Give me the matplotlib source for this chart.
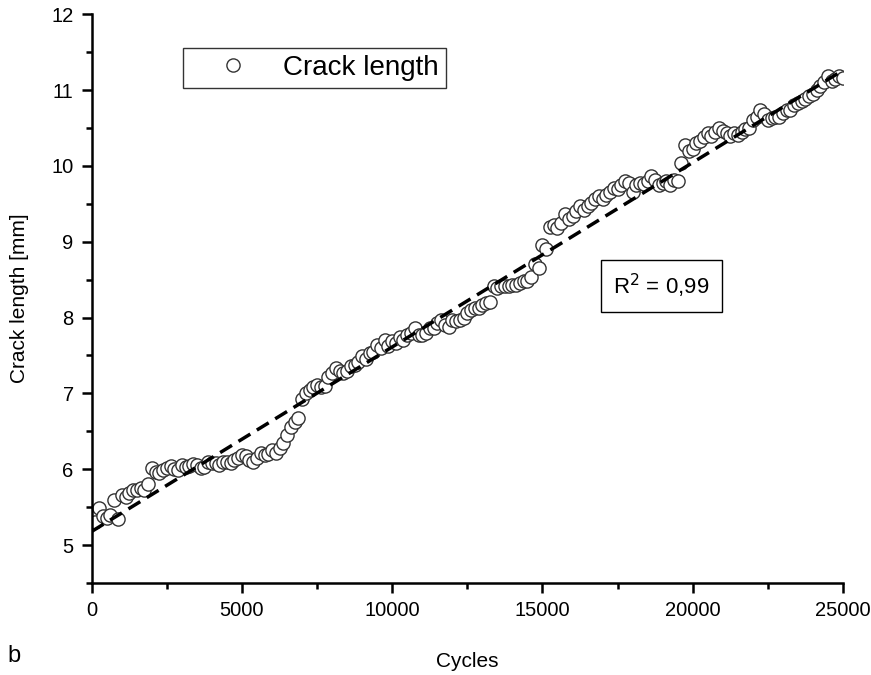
import matplotlib
matplotlib.use("Agg")
import matplotlib.pyplot as plt
from matplotlib.ticker import MultipleLocator

plt.rcParams['font.family'] = ['Liberation Sans', 'DejaVu Sans']

cycles = [
    0, 125, 250, 375, 500, 625, 750, 875,
    1000, 1125, 1250, 1375, 1500, 1625, 1750, 1875,
    2000, 2125, 2250, 2375, 2500, 2625, 2750, 2875,
    3000, 3125, 3250, 3375, 3500, 3625, 3750, 3875,
    4000, 4125, 4250, 4375, 4500, 4625, 4750, 4875,
    5000, 5125, 5250, 5375, 5500, 5625, 5750, 5875,
    6000, 6125, 6250, 6375, 6500, 6625, 6750, 6875,
    7000, 7125, 7250, 7375, 7500, 7625, 7750, 7875,
    8000, 8125, 8250, 8375, 8500, 8625, 8750, 8875,
    9000, 9125, 9250, 9375, 9500, 9625, 9750, 9875,
    10000, 10125, 10250, 10375, 10500, 10625, 10750, 10875,
    11000, 11125, 11250, 11375, 11500, 11625, 11750, 11875,
    12000, 12125, 12250, 12375, 12500, 12625, 12750, 12875,
    13000, 13125, 13250, 13375, 13500, 13625, 13750, 13875,
    14000, 14125, 14250, 14375, 14500, 14625, 14750, 14875,
    15000, 15125, 15250, 15375, 15500, 15625, 15750, 15875,
    16000, 16125, 16250, 16375, 16500, 16625, 16750, 16875,
    17000, 17125, 17250, 17375, 17500, 17625, 17750, 17875,
    18000, 18125, 18250, 18375, 18500, 18625, 18750, 18875,
    19000, 19125, 19250, 19375, 19500, 19625, 19750, 19875,
    20000, 20125, 20250, 20375, 20500, 20625, 20750, 20875,
    21000, 21125, 21250, 21375, 21500, 21625, 21750, 21875,
    22000, 22125, 22250, 22375, 22500, 22625, 22750, 22875,
    23000, 23125, 23250, 23375, 23500, 23625, 23750, 23875,
    24000, 24125, 24250, 24375, 24500, 24625, 24750, 24875,
    25000,
]

crack_length = [
    5.29, 5.30, 5.49, 5.38, 5.36, 5.40, 5.60, 5.35,
    5.66, 5.64, 5.69, 5.72, 5.73, 5.75, 5.73, 5.80,
    6.02, 5.97, 5.95, 5.99, 6.01, 6.04, 6.00, 5.99,
    6.06, 6.03, 6.04, 6.07, 6.05, 6.02, 6.03, 6.10,
    6.08, 6.08, 6.06, 6.09, 6.10, 6.08, 6.12, 6.15,
    6.19, 6.17, 6.12, 6.10, 6.15, 6.21, 6.19, 6.20,
    6.26, 6.22, 6.28, 6.35, 6.45, 6.56, 6.62, 6.68,
    6.92, 7.00, 7.05, 7.08, 7.11, 7.09, 7.10, 7.22,
    7.27, 7.33, 7.30, 7.27, 7.30, 7.36, 7.38, 7.42,
    7.49, 7.45, 7.53, 7.55, 7.64, 7.60, 7.71, 7.62,
    7.69, 7.66, 7.75, 7.70, 7.77, 7.80, 7.86, 7.77,
    7.77, 7.80, 7.86, 7.86, 7.93, 7.97, 7.90, 7.88,
    7.97, 7.95, 7.97, 8.00, 8.06, 8.10, 8.13, 8.13,
    8.17, 8.19, 8.20, 8.41, 8.39, 8.42, 8.41, 8.41,
    8.43, 8.43, 8.46, 8.48, 8.48, 8.54, 8.70, 8.65,
    8.96, 8.90, 9.20, 9.22, 9.18, 9.25, 9.36, 9.30,
    9.34, 9.40, 9.47, 9.42, 9.47, 9.51, 9.56, 9.60,
    9.56, 9.62, 9.66, 9.71, 9.69, 9.75, 9.80, 9.78,
    9.66, 9.75, 9.78, 9.76, 9.80, 9.86, 9.82, 9.75,
    9.78, 9.80, 9.75, 9.82, 9.80, 10.04, 10.28, 10.19,
    10.22, 10.30, 10.33, 10.38, 10.43, 10.40, 10.45, 10.50,
    10.46, 10.43, 10.40, 10.43, 10.41, 10.45, 10.48, 10.50,
    10.61, 10.65, 10.74, 10.68, 10.61, 10.63, 10.65, 10.65,
    10.70, 10.74, 10.74, 10.80, 10.83, 10.85, 10.88, 10.92,
    10.95, 11.00, 11.05, 11.10, 11.18, 11.12, 11.14, 11.18,
    11.16,
]

fit_cycles = [0, 25000]
fit_length = [5.18, 11.26]

r2_label = "R$^2$ = 0,99"
x_ticks = [0, 5000, 10000, 15000, 20000, 25000]
y_ticks = [5, 6, 7, 8, 9, 10, 11, 12]

fig = plt.figure(figsize=(8.71, 6.75), dpi=100)
ax = fig.add_axes([0.1053, 0.1363, 0.8625, 0.8427])

ax.plot(cycles, crack_length, linestyle='none', marker='o', markersize=9.5,
        markerfacecolor='white', markeredgecolor='#333333', markeredgewidth=1.0,
        label='Crack length', zorder=2)
ax.plot(fit_cycles, fit_length, color='black', linestyle=(0, (4, 2.2)),
        linewidth=2.5, zorder=3)

ax.set_xlim(0, 25000)
ax.set_ylim(4.5, 12)
ax.set_xticks(x_ticks)
ax.set_yticks(y_ticks)
ax.xaxis.set_minor_locator(MultipleLocator(2500))
ax.yaxis.set_minor_locator(MultipleLocator(0.5))

for s in ['top', 'right']:
    ax.spines[s].set_visible(False)
for s in ['left', 'bottom']:
    ax.spines[s].set_linewidth(1.8)

ax.tick_params(axis='both', which='major', direction='out', length=7, width=1.8,
               labelsize=14.5, pad=6)
ax.tick_params(axis='both', which='minor', direction='out', length=4, width=1.8)

ax.set_xlabel('Cycles', fontsize=15, labelpad=23)
ax.set_ylabel('Crack length [mm]', fontsize=15, labelpad=16)

leg = ax.legend(loc='center left', bbox_to_anchor=(0.122, 0.906), fontsize=20,
                frameon=True, fancybox=False, handletextpad=0.25, borderpad=0.25,
                handlelength=3.1, borderaxespad=0)
leg.get_frame().set_edgecolor('black')
leg.get_frame().set_linewidth(1.0)

ax.text(0.758, 0.522, r2_label, transform=ax.transAxes, fontsize=16,
        ha='center', va='center',
        bbox=dict(boxstyle='square,pad=0.55', facecolor='white', edgecolor='black',
                  linewidth=1.0))

fig.text(0.009, 0.012, 'b', fontsize=17, ha='left', va='bottom')

fig.savefig('out.png', dpi=100)
